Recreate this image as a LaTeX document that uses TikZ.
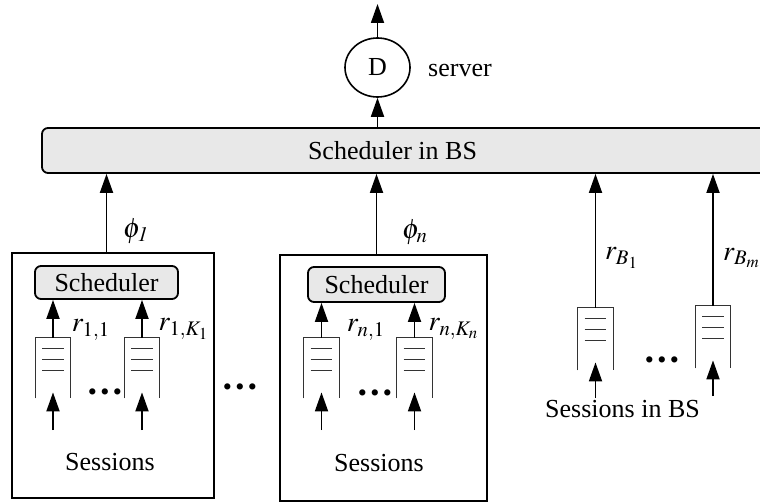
\documentclass[tikz,border=0pt]{standalone}
\usepackage{mathptmx}
\usepackage{fontspec}
\setmainfont{Liberation Serif}
\usetikzlibrary{arrows.meta}
\usetikzlibrary{shapes.geometric}

\tikzset{
  arr/.style={-{Triangle[length=9.5pt,width=6.5pt]}, line width=0.9pt},
  sched/.style={draw, rounded corners=3pt, fill=gray!18, line width=0.9pt, inner sep=0pt},
  frame/.style={draw, line width=1pt, inner sep=0pt},
  queue/.style={inner sep=0pt, minimum width=17.5pt},
  qline/.style={black!80, line width=0.5pt},
  bullets/.style={inner sep=0pt},
  rate/.style={font=\fontsize{14}{16}\selectfont}
}

% open queue: left, top, right side and three slots
\newcommand{\qbox}[1]{%
  \draw[qline] (#1.south west) -- (#1.north west) -- (#1.north east) -- (#1.south east);
  \foreach \k in {1,2,3}
    \draw[qline] ([xshift=3.5pt,yshift={-5.5pt*\k}]#1.north west) -- ([xshift=-3.5pt,yshift={-5.5pt*\k}]#1.north east);
}

\newcommand{\threedots}{\textbullet\hspace{1.7pt}\textbullet\hspace{1.7pt}\textbullet}

\begin{document}
\begin{tikzpicture}[x=0.5pt, y=-0.5pt, font=\fontsize{13}{15}\selectfont]
  \useasboundingbox (0,0) rectangle (760,502);

  % scheduler of the base station and the server
  \node[sched, minimum width=366.5pt, minimum height=22.5pt] (bs) at (408.5,150.5) {};
  \node (bstext) at (392.5,151) {Scheduler in BS};
  \node[ellipse, draw, line width=0.8pt, minimum width=32.5pt, minimum height=29.5pt, inner sep=0pt] (srv) at (377.5,67.5) {D};
  \node (srvtext) at (460,71) {server};
  \coordinate (out) at (377.5,4);
  \draw[arr] (srv.south |- bs.north) -- (srv.south);
  \draw[arr] (srv.north) -- (out);

  % first group
  \node[frame, minimum width=101pt, minimum height=122.5pt] (box1) at (113,375.5) {};
  \node[sched, minimum width=71.5pt, minimum height=16.5pt] (sched1) at (106.5,282.5) {Scheduler};
  \node[queue, minimum height=30pt] (q11) at (53,368) {};
  \node[queue, minimum height=30pt] (q12) at (142,368) {};
  \node[bullets] (dots1) at (105,395) {\threedots};
  \node (s1) at (110,462) {Sessions};
  \node[rate] (phi1) at (136,231) {$\phi_{\mathit{1}}$};
  \draw[arr] (sched1 |- box1.north) -- (sched1 |- bs.south);

  % second group
  \node[frame, minimum width=103.5pt, minimum height=123pt] (box2) at (383.5,378) {};
  \node[sched, minimum width=68.5pt, minimum height=17.5pt] (sched2) at (376.5,284.5) {Scheduler};
  \node[queue, minimum height=30pt] (q21) at (321.5,368) {};
  \node[queue, minimum height=30pt] (q22) at (414.5,368) {};
  \node[bullets] (dots2) at (375,396) {\threedots};
  \node (s2) at (379,463) {Sessions};
  \node[rate] (phin) at (415,232) {$\phi_n$};
  \draw[arr] (sched2 |- box2.north) -- (sched2 |- bs.south);

  \node[bullets] (dotsmid) at (240,390) {\threedots};

  % sessions of the base station
  \node[queue, minimum height=31pt] (qb1) at (595.5,339) {};
  \node[queue, minimum height=31pt] (qb2) at (713,337) {};
  \node[bullets] (dotsbs) at (662,363) {\threedots};
  \node (sbs) at (622.5,409) {Sessions in BS};

  \foreach \q in {q11,q12,q21,q22,qb1,qb2}
    \qbox{\q};

  \draw[arr] (q11.north) -- (q11 |- sched1.south);
  \draw[arr] (q12.north) -- (q12 |- sched1.south);
  \draw[arr] (q21.north) -- (q21 |- sched2.south);
  \draw[arr] (q22.north) -- (q22 |- sched2.south);
  \draw[arr] (qb1.north) -- (qb1 |- bs.south);
  \draw[arr] (qb2.north) -- (qb2 |- bs.south);

  \coordinate (i11) at (53,430);
  \coordinate (i12) at (142,430);
  \coordinate (i21) at (321.5,430);
  \coordinate (i22) at (414.5,430);
  \coordinate (ib1) at (595.5,398);
  \coordinate (ib2) at (713,396);
  \draw[arr] (i11) -- ([yshift=3pt]q11.south);
  \draw[arr] (i12) -- ([yshift=3pt]q12.south);
  \draw[arr] (i21) -- ([yshift=3pt]q21.south);
  \draw[arr] (i22) -- ([yshift=3pt]q22.south);
  \draw[arr] (ib1) -- ([yshift=4pt]qb1.south);
  \draw[arr] (ib2) -- ([yshift=4pt]qb2.south);

  % rates
  \node[rate] (r11) at (91,330) {$r_{1,1}$};
  \node[rate] (r1k) at (184,329) {$r_{1,K_1}$};
  \node[rate] (rn1) at (366,330) {$r_{n,1}$};
  \node[rate] (rnk) at (454,329) {$r_{n,K_n}$};
  \node[rate] (rb1) at (622,258) {$r_{B_1}$};
  \node[rate] (rbm) at (742,258) {$r_{B_m}$};
\end{tikzpicture}
\end{document}
